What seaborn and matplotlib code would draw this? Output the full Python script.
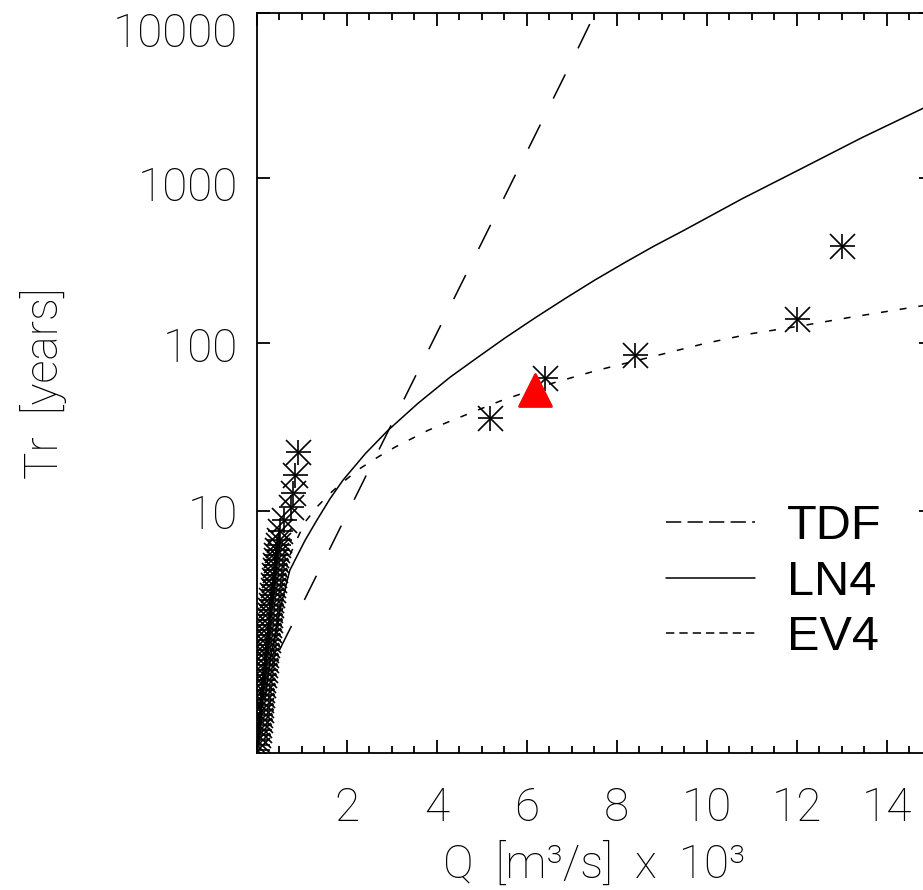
import numpy as np
import pandas as pd
import seaborn as sns
import matplotlib.pyplot as plt
import matplotlib.transforms as mtransforms
from matplotlib.lines import Line2D
from matplotlib.ticker import FixedLocator, MultipleLocator, NullFormatter

# --- observed annual peaks (Q in 10^3 m3/s, return period in years) ---
q_obs = [0.93, 0.86, 0.82, 0.76, 0.60, 0.52,
         0.50, 0.467, 0.456, 0.444, 0.433, 0.41, 0.40, 0.389, 0.378, 0.367,
         0.356, 0.344, 0.333, 0.32, 0.31, 0.30, 0.29, 0.28, 0.27, 0.255,
         0.245, 0.233, 0.22, 0.21, 0.20, 0.19, 0.18, 0.167, 0.155, 0.145,
         0.133, 0.122, 0.11, 0.10, 0.09, 0.078, 0.067, 0.055, 0.045, 0.033,
         0.022, 0.011, 0.01,
         5.19, 6.41, 8.41, 12.0, 13.0]
tr_obs = [22.0, 16.1, 12.66, 10.5, 8.85, 7.66,
          6.81, 6.40, 6.00, 5.63, 5.29, 4.97, 4.67, 4.39, 4.13, 3.89,
          3.67, 3.46, 3.26, 3.08, 2.91, 2.75, 2.60, 2.47, 2.34, 2.22,
          2.12, 2.01, 1.92, 1.83, 1.751, 1.676, 1.608, 1.543, 1.486, 1.431,
          1.382, 1.336, 1.295, 1.257, 1.223, 1.192, 1.165, 1.140, 1.118, 1.099,
          1.081, 1.067, 1.054,
          35.5, 61.3, 84.7, 139.6, 387.8]

# --- historical flood (red triangle) ---
q_hist = [6.19]
tr_hist = [51.8]

# --- fitted distributions ---
q_tdf = [0.51, 1.0, 2.0, 3.0, 4.0, 5.0, 6.0, 7.0, 7.52]
tr_tdf = [1.92, 3.06, 9.48, 32.4, 113.8, 403, 1431, 5084, 10000]

q_ln4 = [0.19, 0.34, 0.57, 0.74, 1.08, 1.34, 1.633, 1.92, 2.42, 2.92, 3.58,
         4.30, 4.88, 5.52, 6.19, 6.86, 7.52, 8.19, 8.83, 9.48, 10.78, 12.08,
         13.44, 14.81, 15.0]
tr_ln4 = [1.30, 1.92, 3.25, 4.67, 6.82, 8.85, 11.77, 15.1, 21.7, 29.8, 43.1,
          62.1, 80.6, 107.1, 141.8, 185.8, 240.4, 307.3, 385.5, 478, 745, 1129,
          1749, 2645, 2815]

q_ev4 = [0.74, 0.92, 1.08, 1.34, 1.67, 1.97, 2.30, 2.70, 3.08, 3.81, 4.30,
         5.41, 6.52, 7.56, 8.74, 9.92, 10.97, 12.14, 13.19, 14.81, 15.0]
tr_ev4 = [5.63, 7.09, 8.65, 10.54, 12.9, 15.1, 17.7, 20.7, 23.7, 29.8, 33.8,
          44.6, 56.6, 68.2, 81.9, 98.6, 113.4, 127.3, 142.7, 168, 171]

x_ticks = [0, 2, 4, 6, 8, 10, 12, 14]
x_ticklabels = ["", "2", "4", "6", "8", "10", "12", "14"]
y_ticks = [10, 100, 1000, 10000]
y_ticklabels = ["10", "100", "1000", "10000"]
legend_labels = ["TDF", "LN4", "EV4"]


def gumbel_fwd(t):
    t = np.asarray(t, float)
    with np.errstate(all="ignore"):
        return -np.log(-np.log(1.0 - 1.0 / t))


def gumbel_inv(u):
    u = np.asarray(u, float)
    with np.errstate(all="ignore"):
        return 1.0 / (1.0 - np.exp(-np.exp(-u)))


sns.set_style("ticks")
plt.rcParams["font.family"] = ["Roboto", "DejaVu Sans"]
plt.rcParams["lines.scale_dashes"] = False
plt.rcParams["text.color"] = "black"
plt.rcParams["axes.labelcolor"] = "black"
plt.rcParams["xtick.color"] = "black"
plt.rcParams["ytick.color"] = "black"

fig = plt.figure(figsize=(9.23, 8.90), dpi=100)
ax = fig.add_axes([0.2779, 0.1539, 0.7318, 0.8315])

tdf_ls = (0, (19.4, 20.9))
ev4_ls = (0, (5.0, 8.6))

sns.lineplot(x=q_tdf, y=tr_tdf, ax=ax, color="k", lw=1.1, sort=False,
             estimator=None, linestyle=tdf_ls)
sns.lineplot(x=q_ln4, y=tr_ln4, ax=ax, color="k", lw=1.1, sort=False,
             estimator=None)
sns.lineplot(x=q_ev4, y=tr_ev4, ax=ax, color="k", lw=1.1, sort=False,
             estimator=None, linestyle=ev4_ls)

sns.scatterplot(x=q_obs, y=tr_obs, ax=ax, marker="+", s=18 ** 2,
                color="k", linewidth=1.2, zorder=3)
sns.scatterplot(x=q_obs, y=tr_obs, ax=ax, marker="x", s=18 ** 2,
                color="k", linewidth=1.2, zorder=3)
sns.scatterplot(x=q_hist, y=tr_hist, ax=ax, marker="^", s=23 ** 2,
                color="#ff0000", edgecolor="#ff0000", linewidth=2, zorder=4)

ax.set_yscale("function", functions=(gumbel_fwd, gumbel_inv))
ax.set_xlim(0, 15)
ax.set_ylim(1.047, 10000)

ax.set_xticks(x_ticks)
ax.set_xticklabels(x_ticklabels)
ax.xaxis.set_minor_locator(MultipleLocator(0.5))
ax.set_yticks(y_ticks)
ax.set_yticklabels(y_ticklabels)
ax.yaxis.set_minor_locator(FixedLocator([1.25]))
ax.yaxis.set_minor_formatter(NullFormatter())

ax.tick_params(which="both", direction="in", top=True, right=True,
               width=1.3, colors="k", labelsize=33, labelcolor="k")
ax.tick_params(which="major", length=9.5)
ax.tick_params(which="minor", length=5)
ax.yaxis.set_tick_params(which="minor", length=2.5)
ax.xaxis.set_tick_params(which="major", pad=24)
ax.yaxis.set_tick_params(which="major", pad=13)
for lbl in ax.get_xticklabels() + ax.get_yticklabels():
    lbl.set_fontweight("light")

# nudge the y tick labels down a little, as in the original
y_shift_px = [1, 2, 6, 17]
for tick, dy in zip(ax.yaxis.get_major_ticks(), y_shift_px):
    off = mtransforms.ScaledTranslation(0, -dy / 100, fig.dpi_scale_trans)
    tick.label1.set_transform(tick.label1.get_transform() + off)

for side in ax.spines.values():
    side.set_linewidth(1.3)
    side.set_color("k")

ax.set_xlabel("Q  [m³/s]  x  10³", fontsize=33, fontweight="light",
              labelpad=8, color="k")
ax.set_ylabel("Tr  [years]", fontsize=33, fontweight="light",
              labelpad=33, color="k")

handles = [Line2D([], [], color="k", lw=1.1, ls=(0, (11, 4.5))),
           Line2D([], [], color="k", lw=1.1),
           Line2D([], [], color="k", lw=1.1, ls=(0, (6, 3.6)))]
ax.legend(handles, legend_labels, loc="upper left",
          bbox_to_anchor=(0.7216, 0.4337), bbox_transform=fig.transFigure,
          frameon=False, prop={"family": "Liberation Sans", "size": 35},
          handlelength=1.83, handletextpad=0.66, labelspacing=0.22,
          borderpad=0, borderaxespad=0)

plt.savefig("out.png", dpi=100)
